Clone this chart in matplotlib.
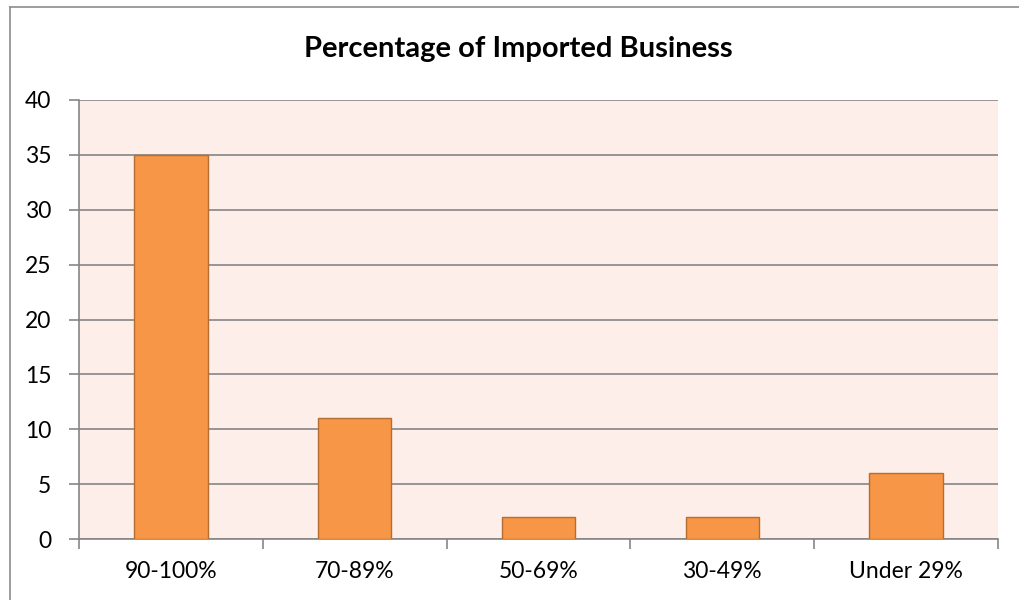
import matplotlib
matplotlib.use("Agg")
import matplotlib.pyplot as plt
from matplotlib.lines import Line2D
import numpy as np

categories = ["90-100%", "70-89%", "50-69%", "30-49%", "Under 29%"]
counts = [35, 11, 2, 2, 6]
y_ticks = [0, 5, 10, 15, 20, 25, 30, 35, 40]

W, H = 1019, 600
plt.rcParams['font.family'] = ['Lato', 'DejaVu Sans']

fig = plt.figure(figsize=(W / 100, H / 100), dpi=100)
fig.patch.set_facecolor("white")

# Chart area border (left and top edges)
fig.add_artist(Line2D([10 / W, 10 / W], [0, 1 - 7 / H], transform=fig.transFigure,
                      color="#8c8c8c", lw=1.2))
fig.add_artist(Line2D([10 / W, 1], [1 - 7 / H, 1 - 7 / H], transform=fig.transFigure,
                      color="#8c8c8c", lw=1.2))

ax = fig.add_axes([79 / W, 61 / H, (998 - 79) / W, (539 - 100) / H])
ax.set_facecolor("#fdeee9")

x = np.arange(len(categories))
ax.bar(x, counts, width=0.40, color="#f79646", edgecolor="#b66d31", linewidth=1.0, zorder=3)

ax.set_xlim(-0.5, len(categories) - 0.5)
ax.set_ylim(0, 40)
ax.set_yticks(y_ticks)
ax.set_yticklabels([str(v) for v in y_ticks], fontsize=16.5, color="black")

ax.yaxis.grid(True, color="#868686", lw=1.2, zorder=1)
ax.set_axisbelow(True)

# Category boundaries as major ticks, labels at minor ticks in the middle
ax.set_xticks(np.arange(-0.5, len(categories), 1.0))
ax.set_xticklabels([])
ax.set_xticks(x, minor=True)
ax.set_xticklabels(categories, minor=True, fontsize=16.5)
ax.tick_params(axis="x", which="major", length=7, width=1.2, color="#868686", direction="out")
ax.tick_params(axis="x", which="minor", length=0, pad=16)
ax.tick_params(axis="y", length=7, width=1.2, color="#868686", pad=13, direction="out")

for s in ["top", "right"]:
    ax.spines[s].set_visible(False)
for s in ["left", "bottom"]:
    ax.spines[s].set_color("#868686")
    ax.spines[s].set_linewidth(1.2)

fig.text(518 / W, 1 - 49 / H, "Percentage of Imported Business", ha="center", va="center",
         fontsize=21, fontweight="bold")

fig.savefig("out.png", dpi=100)
